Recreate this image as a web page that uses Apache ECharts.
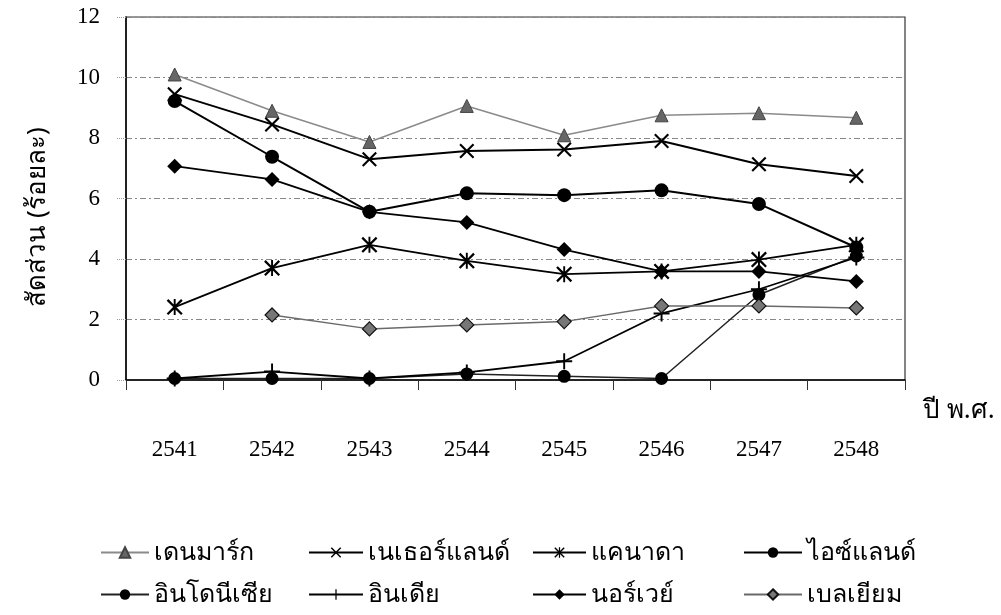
<!DOCTYPE html>
<html>
<head>
<meta charset="utf-8">
<script src="https://cdn.jsdelivr.net/npm/echarts@6/dist/echarts.min.js"></script>
<style>
html,body{margin:0;padding:0;background:#fff;}
#chart{width:1001px;height:615px;}
</style>
</head>
<body>
<div id="chart"></div>
<script>
// ---- data ----
const years = ['2541','2542','2543','2544','2545','2546','2547','2548'];
const yTicks = [0, 2, 4, 6, 8, 10, 12];
const denmark     = [10.1, 8.9, 7.87, 9.06, 8.09, 8.75, 8.82, 8.67];
const netherlands = [9.45, 8.45, 7.3, 7.57, 7.62, 7.9, 7.13, 6.74];
const canada      = [2.41, 3.7, 4.47, 3.94, 3.5, 3.59, 3.98, 4.47];
const iceland     = [9.22, 7.38, 5.56, 6.17, 6.11, 6.27, 5.82, 4.38];
const indonesia   = [0.05, 0.05, 0.05, 0.2, 0.12, 0.05, 2.82, 4.1];
const india       = [0.05, 0.28, 0.05, 0.25, 0.62, 2.2, 3.0, 4.05];
const norway      = [7.07, 6.63, 5.56, 5.21, 4.31, 3.59, 3.59, 3.26];
const belgium     = [null, 2.15, 1.69, 1.82, 1.93, 2.45, 2.45, 2.38];
const names = ['เดนมาร์ก','เนเธอร์แลนด์','แคนาดา','ไอซ์แลนด์','อินโดนีเซีย','อินเดีย','นอร์เวย์','เบลเยียม'];
const yTitle = 'สัดส่วน (ร้อยละ)';
const xTitle = 'ปี พ.ศ.';

// ---- symbols ----
const SYM_X = 'path://M0,1 L1,0 L5,4 L9,0 L10,1 L6,5 L10,9 L9,10 L5,6 L1,10 L0,9 L4,5 Z';
const SYM_AST = 'path://M0,1 L1,0 L5,4 L9,0 L10,1 L6,5 L10,9 L9,10 L5,6 L1,10 L0,9 L4,5 Z M4.4,0 L5.6,0 L5.6,10 L4.4,10 Z';
const SYM_PLUS = 'path://M4.4,0 L5.6,0 L5.6,4.4 L10,4.4 L10,5.6 L5.6,5.6 L5.6,10 L4.4,10 L4.4,5.6 L0,5.6 L0,4.4 L4.4,4.4 Z';

const thaiFont = "'Noto Sans', 'DejaVu Sans', sans-serif";
const serif = "'Liberation Serif', 'DejaVu Serif', serif";

function mk(name, data, opts) {
  return Object.assign({
    name: name, type: 'line', data: data,
    connectNulls: false,
    animation: false,
    lineStyle: {color: '#000', width: 2},
    itemStyle: {color: '#000', borderWidth: 0},
    emphasis: {disabled: true}
  }, opts);
}

const series = [
  mk(names[0], denmark, {symbol: 'triangle', symbolSize: 13,
     lineStyle: {color: '#8a8a8a', width: 1.5},
     itemStyle: {color: '#666', borderColor: '#444', borderWidth: 1}}),
  mk(names[1], netherlands, {symbol: SYM_X, symbolSize: 15}),
  mk(names[2], canada, {symbol: SYM_AST, symbolSize: 16, lineStyle: {color: '#000', width: 1.8}}),
  mk(names[3], iceland, {symbol: 'circle', symbolSize: 14}),
  mk(names[4], indonesia, {symbol: 'circle', symbolSize: 13, lineStyle: {color: '#222', width: 1.5}}),
  mk(names[5], india, {symbol: SYM_PLUS, symbolSize: 16, lineStyle: {color: '#000', width: 1.8}}),
  mk(names[6], norway, {symbol: 'diamond', symbolSize: 15, lineStyle: {color: '#000', width: 1.8}}),
  mk(names[7], belgium, {symbol: 'diamond', symbolSize: 14,
     lineStyle: {color: '#6a6a6a', width: 1.5},
     itemStyle: {color: '#777', borderColor: '#111', borderWidth: 1.2}})
];

const legendPos = [
  [100, 540, 48], [308, 540, 54], [532, 540, 53], [743, 540, 58],
  [100, 582, 48], [308, 582, 54], [532, 582, 53], [743, 582, 58]
];
const legends = names.map((n, i) => ({
  data: [n], left: legendPos[i][0], top: legendPos[i][1],
  itemWidth: legendPos[i][2], itemHeight: 13, itemGap: 0, padding: 0,
  selectedMode: false,
  textStyle: {fontFamily: thaiFont, fontSize: 25, color: '#000'}
}));

const chart = echarts.init(document.getElementById('chart'), null, {renderer: 'canvas'});
chart.setOption({
  backgroundColor: '#fff',
  animation: false,
  grid: {left: 126, right: 96, top: 17, bottom: 235, show: true, borderColor: '#333', borderWidth: 1.2},
  legend: legends,
  xAxis: {
    type: 'category', data: years, boundaryGap: true,
    axisLine: {lineStyle: {color: '#000', width: 1.5}},
    axisTick: {show: true, interval: 0, length: 10, lineStyle: {color: '#333'}},
    axisLabel: {margin: 58, fontFamily: serif, fontSize: 23, color: '#000'},
    splitLine: {show: false}
  },
  yAxis: {
    type: 'value', min: yTicks[0], max: yTicks[yTicks.length-1], interval: 2,
    axisLine: {show: true, lineStyle: {color: '#000', width: 1.5}},
    axisTick: {show: true, length: 10, lineStyle: {color: '#999', type: 'dotted'}},
    axisLabel: {margin: 26, fontFamily: serif, fontSize: 23, color: '#000'},
    splitLine: {show: true, lineStyle: {color: '#888', type: [6, 3, 2, 3], width: 1}}
  },
  graphic: [{
    type: 'text', left: 923, top: 398,
    style: {text: xTitle, font: "26px " + thaiFont, fill: '#000'}
  }, {
    type: 'text', x: 38, y: 217, rotation: Math.PI / 2,
    style: {text: yTitle, font: "26px " + thaiFont, fill: '#000', align: 'center', verticalAlign: 'middle'}
  }],
  series: series
});
</script>
</body>
</html>
